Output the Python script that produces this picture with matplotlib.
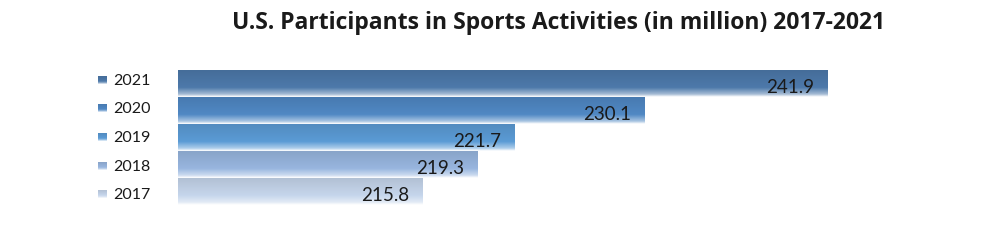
import numpy as np
import matplotlib
matplotlib.use("Agg")
import matplotlib.pyplot as plt
from matplotlib.colors import to_rgb

plt.rcParams['font.family'] = ['Lato', 'DejaVu Sans']

years = ['2017', '2018', '2019', '2020', '2021']
participants = [215.8, 219.3, 221.7, 230.1, 241.9]
bar_colors = ['#c6d6ec', '#98b6df', '#5b9bd5', '#5088c4', '#4d79aa']


def gradient(color, n=64):
    # top darker, fades to white at the bottom edge
    c = np.array(to_rgb(color))
    t = np.linspace(0, 1, n)
    rows = []
    for v in t:
        if v < 0.65:
            col = c * (0.9 + 0.1 * v / 0.65)
        elif v < 0.9:
            k = (v - 0.65) / 0.25
            col = c * (1 - 0.5 * k) + 0.5 * k
        else:
            k = (v - 0.9) / 0.1
            col = c * 0.5 * (1 - k) + (0.5 + 0.5 * k)
        rows.append(np.clip(col, 0, 1))
    return np.array(rows).reshape(n, 1, 3)


fig = plt.figure(figsize=(9.91, 2.53), dpi=100)
ax = fig.add_axes([178 / 991, 47 / 253, 775 / 991, 135 / 253])

ypos = np.arange(len(years))
bars = ax.barh(ypos, [p - 200 for p in participants], left=200, height=1.0,
               color='none', edgecolor='none')
for bar, col, val in zip(bars, bar_colors, participants):
    x0, y0 = bar.get_x(), bar.get_y()
    x1, y1 = x0 + bar.get_width(), y0 + bar.get_height()
    ax.imshow(gradient(col), extent=[x0, x1, y0, y1], aspect='auto',
              origin='upper', interpolation='bilinear')
    ax.text(x1 - 0.85, (y0 + y1) / 2 - 0.12, f'{val:.1f}', ha='right', va='center',
            fontsize=13.5, color='#1a1a1a')

ax.set_xlim(200, 250)
ax.set_ylim(-0.5, len(years) - 0.5)
ax.axis('off')

# legend with gradient squares
lax = fig.add_axes([0, 0, 1, 1])
leg_y = [195, 167, 138, 109, 80.5]
for yr, col, ly in zip(years, bar_colors, leg_y):
    lax.imshow(gradient(col), extent=[98, 106.5, ly + 4, ly - 4], aspect='auto',
               interpolation='bilinear')
    lax.text(113, ly, yr, ha='left', va='center', fontsize=11.5, color='#1a1a1a')
lax.set_xlim(0, 991)
lax.set_ylim(253, 0)
lax.axis('off')

fig.text(559 / 991, 1 - 23 / 253, 'U.S. Participants in Sports Activities (in million) 2017-2021',
         ha='center', va='center', fontsize=16.5, fontweight='bold', color='#1a1a1a',
         family=['Open Sans', 'DejaVu Sans'])

fig.savefig('out.png', dpi=100)
